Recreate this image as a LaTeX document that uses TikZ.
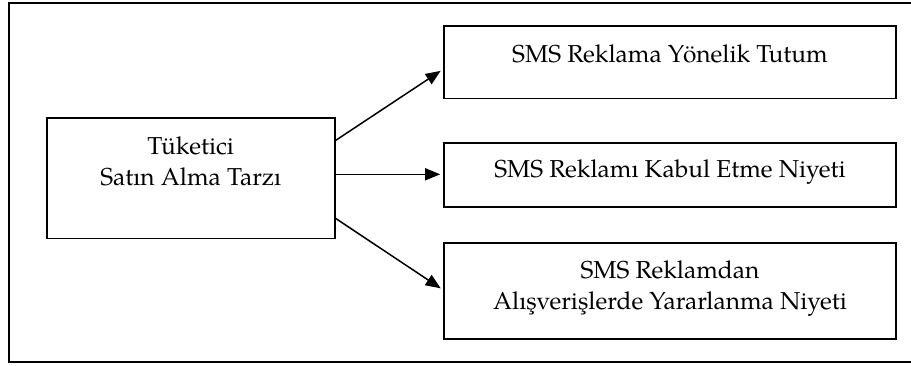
\documentclass[tikz,border=0pt]{standalone}
\usepackage{fontspec}
\setmainfont{texgyrepagella}[Extension=.otf, UprightFont=*-regular, BoldFont=*-bold, ItalicFont=*-italic, BoldItalicFont=*-bolditalic]
\usetikzlibrary{arrows.meta}
\begin{document}
\begin{tikzpicture}[x=1pt,y=-1pt,
  frame/.style={draw=black, line width=1.6pt},
  box/.style={draw=black, line width=1.6pt, inner sep=0pt},
  label/.style={inner sep=0pt, anchor=base, align=center, font=\fontsize{24.5}{30.5}\selectfont},
  conn/.style={line width=1.5pt, -{Triangle[length=15pt,width=12pt]}, shorten >=3pt}]
\useasboundingbox (0,0) rectangle (911,365);
\draw[frame] (913,3) -- (9,3) -- (9,362) -- (913,362);
\node[box, minimum width=288pt, minimum height=120.6pt] (a) at (190.7,178) {};
\node[box, minimum width=452pt, minimum height=72.3pt] (b1) at (670,62.2) {};
\node[box, minimum width=452pt, minimum height=64pt] (b2) at (670,174.7) {};
\node[box, minimum width=452pt, minimum height=96.3pt] (b3) at (670,290.9) {};
\node[label] (ta) at (190.7,185) {Tüketici\\Satın Alma Tarzı};
\node[label] (t1) at (670,62.3) {SMS Reklama Yönelik Tutum};
\node[label] (t2) at (670,177.3) {SMS Reklamı Kabul Etme Niyeti};
\node[label] (t3) at (670,309.3) {SMS Reklamdan\\Alışverişlerde Yararlanma Niyeti};
\draw[conn] ([yshift=37.5pt]a.east) -- ([yshift=-7pt]b1.west);
\draw[conn] ([yshift=3.7pt]a.east) -- ([yshift=0.4pt]b2.west);
\draw[conn] ([yshift=-40.3pt]a.east) -- ([yshift=0.9pt]b3.west);
\end{tikzpicture}
\end{document}
